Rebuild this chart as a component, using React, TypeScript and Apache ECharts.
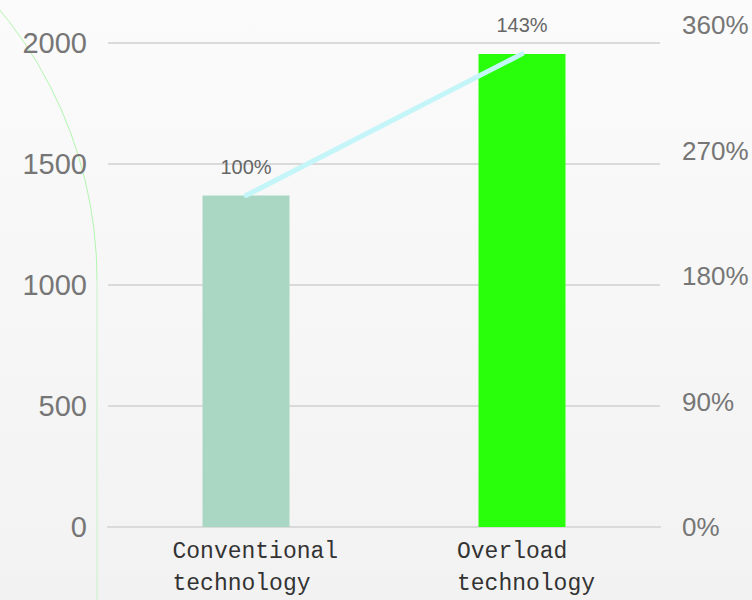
import React, { useEffect, useRef } from "react";
import * as echarts from "echarts";

const categories = ["Conventional technology", "Overload technology"];
const barValues = [1370, 1955];
const barColors = ["#a9d7c4", "#2aff0b"];
const lineValues = [1370, 1955];
const lineLabels = ["100%", "143%"];
const leftTicks = { min: 0, max: 2000, interval: 500 };
const rightTicks = { min: 0, max: 360, interval: 90 };

export default function App() {
  const ref = useRef<HTMLDivElement>(null);
  useEffect(() => {
    if (!ref.current) return;
    const chart = echarts.init(ref.current, undefined, { renderer: "svg" });
    const mono = "'Liberation Mono', monospace";
    const sans = "'Liberation Sans', Arial, sans-serif";
    chart.setOption({
      animation: false,
      backgroundColor: {
        type: "linear",
        x: 0,
        y: 0,
        x2: 0,
        y2: 1,
        colorStops: [
          { offset: 0, color: "#fbfbfb" },
          { offset: 1, color: "#f2f2f2" },
        ],
      },
      graphic: [
        {
          type: "arc",
          z: 0,
          silent: true,
          shape: { cx: -327, cy: 280, r: 424, startAngle: -0.95, endAngle: 0 },
          style: { stroke: "#b3f5b0", lineWidth: 1, fill: "none" },
        },
        {
          type: "line",
          z: 0,
          silent: true,
          shape: { x1: 97, y1: 280, x2: 97, y2: 600 },
          style: { stroke: "#c8f2c8", lineWidth: 1 },
        },
      ],
      grid: [
        { left: 108, right: 92, top: 43, bottom: 73 },
        { left: 108, right: 92, top: 25, bottom: 73 },
      ],
      xAxis: [
        {
          type: "category",
          gridIndex: 0,
          data: categories,
          axisTick: { show: false },
          axisLine: { lineStyle: { color: "#dadada", width: 2 } },
          axisLabel: {
            margin: 9,
            interval: 0,
            color: "#333333",
            fontFamily: mono,
            fontSize: 23,
            lineHeight: 32,
            formatter: (v: string, i: number) =>
              v
                .split(" ")
                .map((w) => `{c${i}|${w}}`)
                .join("\n"),
            rich: {
              c0: { width: 147, align: "left", fontFamily: mono, fontSize: 23, lineHeight: 32, color: "#333333" },
              c1: { width: 130, align: "left", fontFamily: mono, fontSize: 23, lineHeight: 32, color: "#333333" },
            },
          },
        },
        {
          type: "category",
          gridIndex: 1,
          data: categories,
          show: false,
        },
      ],
      yAxis: [
        {
          type: "value",
          gridIndex: 0,
          min: leftTicks.min,
          max: leftTicks.max,
          interval: leftTicks.interval,
          axisLine: { show: false },
          axisTick: { show: false },
          splitLine: { lineStyle: { color: "#dadada", width: 2 } },
          axisLabel: {
            margin: 21,
            color: "#767676",
            fontSize: 29,
            fontFamily: sans,
            formatter: (v: number) => String(v),
          },
        },
        {
          type: "value",
          gridIndex: 1,
          position: "right",
          min: rightTicks.min,
          max: rightTicks.max,
          interval: rightTicks.interval,
          axisLine: { show: false },
          axisTick: { show: false },
          splitLine: { show: false },
          axisLabel: {
            margin: 22,
            color: "#767676",
            fontSize: 26,
            fontFamily: sans,
            formatter: (v: number) => `${v}%`,
          },
        },
      ],
      series: [
        {
          type: "bar",
          xAxisIndex: 0,
          yAxisIndex: 0,
          barWidth: 87,
          data: barValues.map((v, i) => ({ value: v, itemStyle: { color: barColors[i] } })),
          z: 2,
        },
        {
          type: "line",
          xAxisIndex: 0,
          yAxisIndex: 0,
          data: lineValues,
          symbol: "circle",
          symbolSize: 1,
          itemStyle: { color: "#c3f5f9" },
          lineStyle: { color: "#c3f5f9", width: 5, cap: "round" },
          z: 3,
          label: {
            show: true,
            position: "top",
            distance: 18,
            color: "#666666",
            fontSize: 20,
            fontFamily: sans,
            formatter: (p: any) => lineLabels[p.dataIndex],
          },
        },
      ],
    });
    return () => chart.dispose();
  }, []);
  return (
    <div
      ref={ref}
      style={{ position: "fixed", left: 0, top: 0, width: 752, height: 600 }}
    />
  );
}
